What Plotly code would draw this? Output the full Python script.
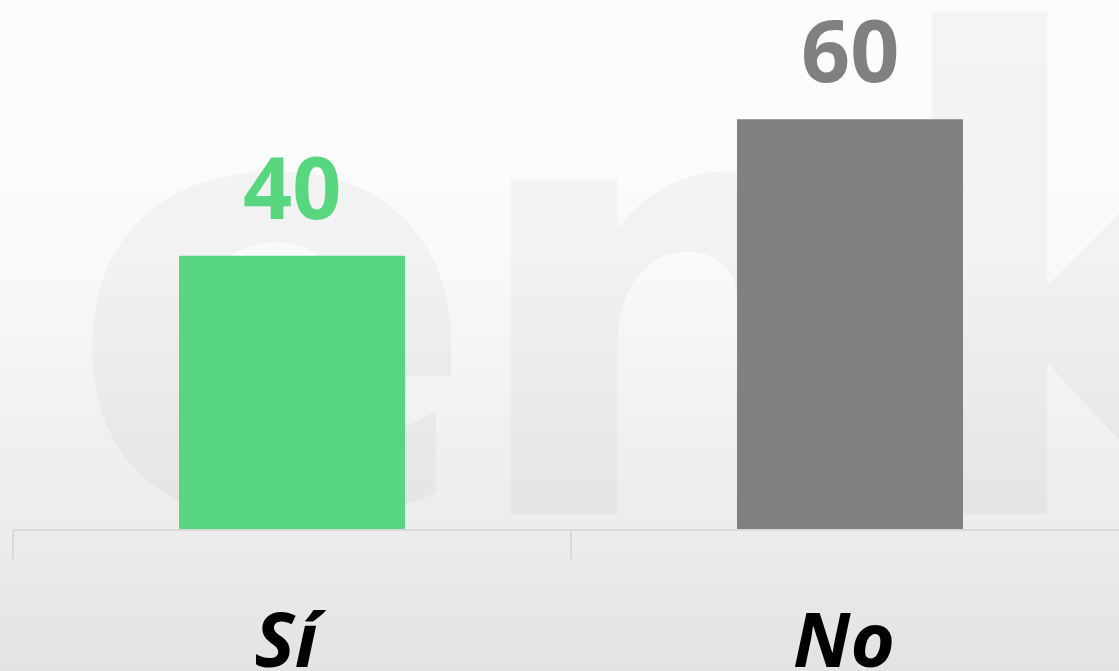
import plotly.graph_objects as go

# ---- data ----
categories = ["Sí", "No"]
values = [40, 60]
bar_colors = ["#58D680", "#808080"]

W, H = 1119, 671
ML, MR, MT, MB = 13, 0, 0, 142
PW, PH = W - ML - MR, H - MT - MB


def px_x(px):
    return (px - ML) / PW


def px_y(py):
    return (H - MB - py) / PH


fig = go.Figure()
fig.add_trace(go.Bar(
    x=categories, y=values, marker=dict(color=bar_colors, line=dict(width=0)),
    width=0.405, hoverinfo="skip", showlegend=False,
))

shapes = []
# gradient background as thin stripes
stops = [(0, 252), (250, 250), (400, 242), (529, 236), (671, 227)]


def shade(y):
    for (y0, c0), (y1, c1) in zip(stops[:-1], stops[1:]):
        if y0 <= y <= y1:
            return c0 + (c1 - c0) * (y - y0) / (y1 - y0)
    return stops[-1][1]


step = 4
for y in range(0, H, step):
    c = int(round(shade(y + step / 2)))
    shapes.append(dict(
        type="rect", xref="paper", yref="paper", layer="below",
        x0=px_x(-5), x1=px_x(W + 5), y0=px_y(y + step + 0.5), y1=px_y(y),
        fillcolor=f"rgb({c},{c},{c})", line=dict(width=0),
    ))

# watermark letters (decorative logo)
for letter, left, size in [("e", 63, 612), ("n", 456, 612), ("k", 873, 662)]:
    wm_bottom = 513 + 0.165 * size
    shapes.append(dict(
        type="rect", xref="paper", yref="paper", layer="below",
        x0=px_x(left), x1=px_x(left + 600), y0=px_y(wm_bottom), y1=px_y(0),
        fillcolor="rgba(0,0,0,0)", line=dict(width=0),
        label=dict(text=letter, textposition="bottom left", padding=0,
                   font=dict(family="DejaVu Sans", size=size,
                             color="rgba(0,0,0,0.032)", weight="bold")),
    ))

annotations = []
for c, v, col in zip(categories, values, bar_colors):
    annotations.append(dict(
        x=c, y=v, xref="x", yref="y", text=str(v), showarrow=False,
        yanchor="bottom", yshift=10,
        font=dict(family="Open Sans", size=86, color=col, weight="bold"),
    ))

fig.update_layout(
    width=W, height=H, autosize=False,
    margin=dict(l=ML, r=MR, t=MT, b=MB, pad=0, autoexpand=False),
    paper_bgcolor="#f0f0f0", plot_bgcolor="rgba(0,0,0,0)",
    shapes=shapes, annotations=annotations,
    bargap=0.595,
    xaxis=dict(
        type="category", range=[-0.5, -0.5 + PW / 558], fixedrange=True, automargin=False,
        showline=True, linecolor="#d9d9d9", linewidth=2,
        ticks="outside", tickson="boundaries", ticklen=28, tickwidth=2, tickcolor="#d9d9d9",
        showgrid=False, zeroline=False, ticklabelstandoff=45, ticklabelshift=-6,
        tickfont=dict(family="Open Sans", size=76, color="#000000", weight="bold", style="italic"),
    ),
    yaxis=dict(range=[0, PH / 6.83], visible=False, fixedrange=True, automargin=False),
    showlegend=False,
)

fig.write_html("out.html", config={"displayModeBar": False},
               post_script="document.body.style.margin='0';document.body.style.overflow='hidden';")
